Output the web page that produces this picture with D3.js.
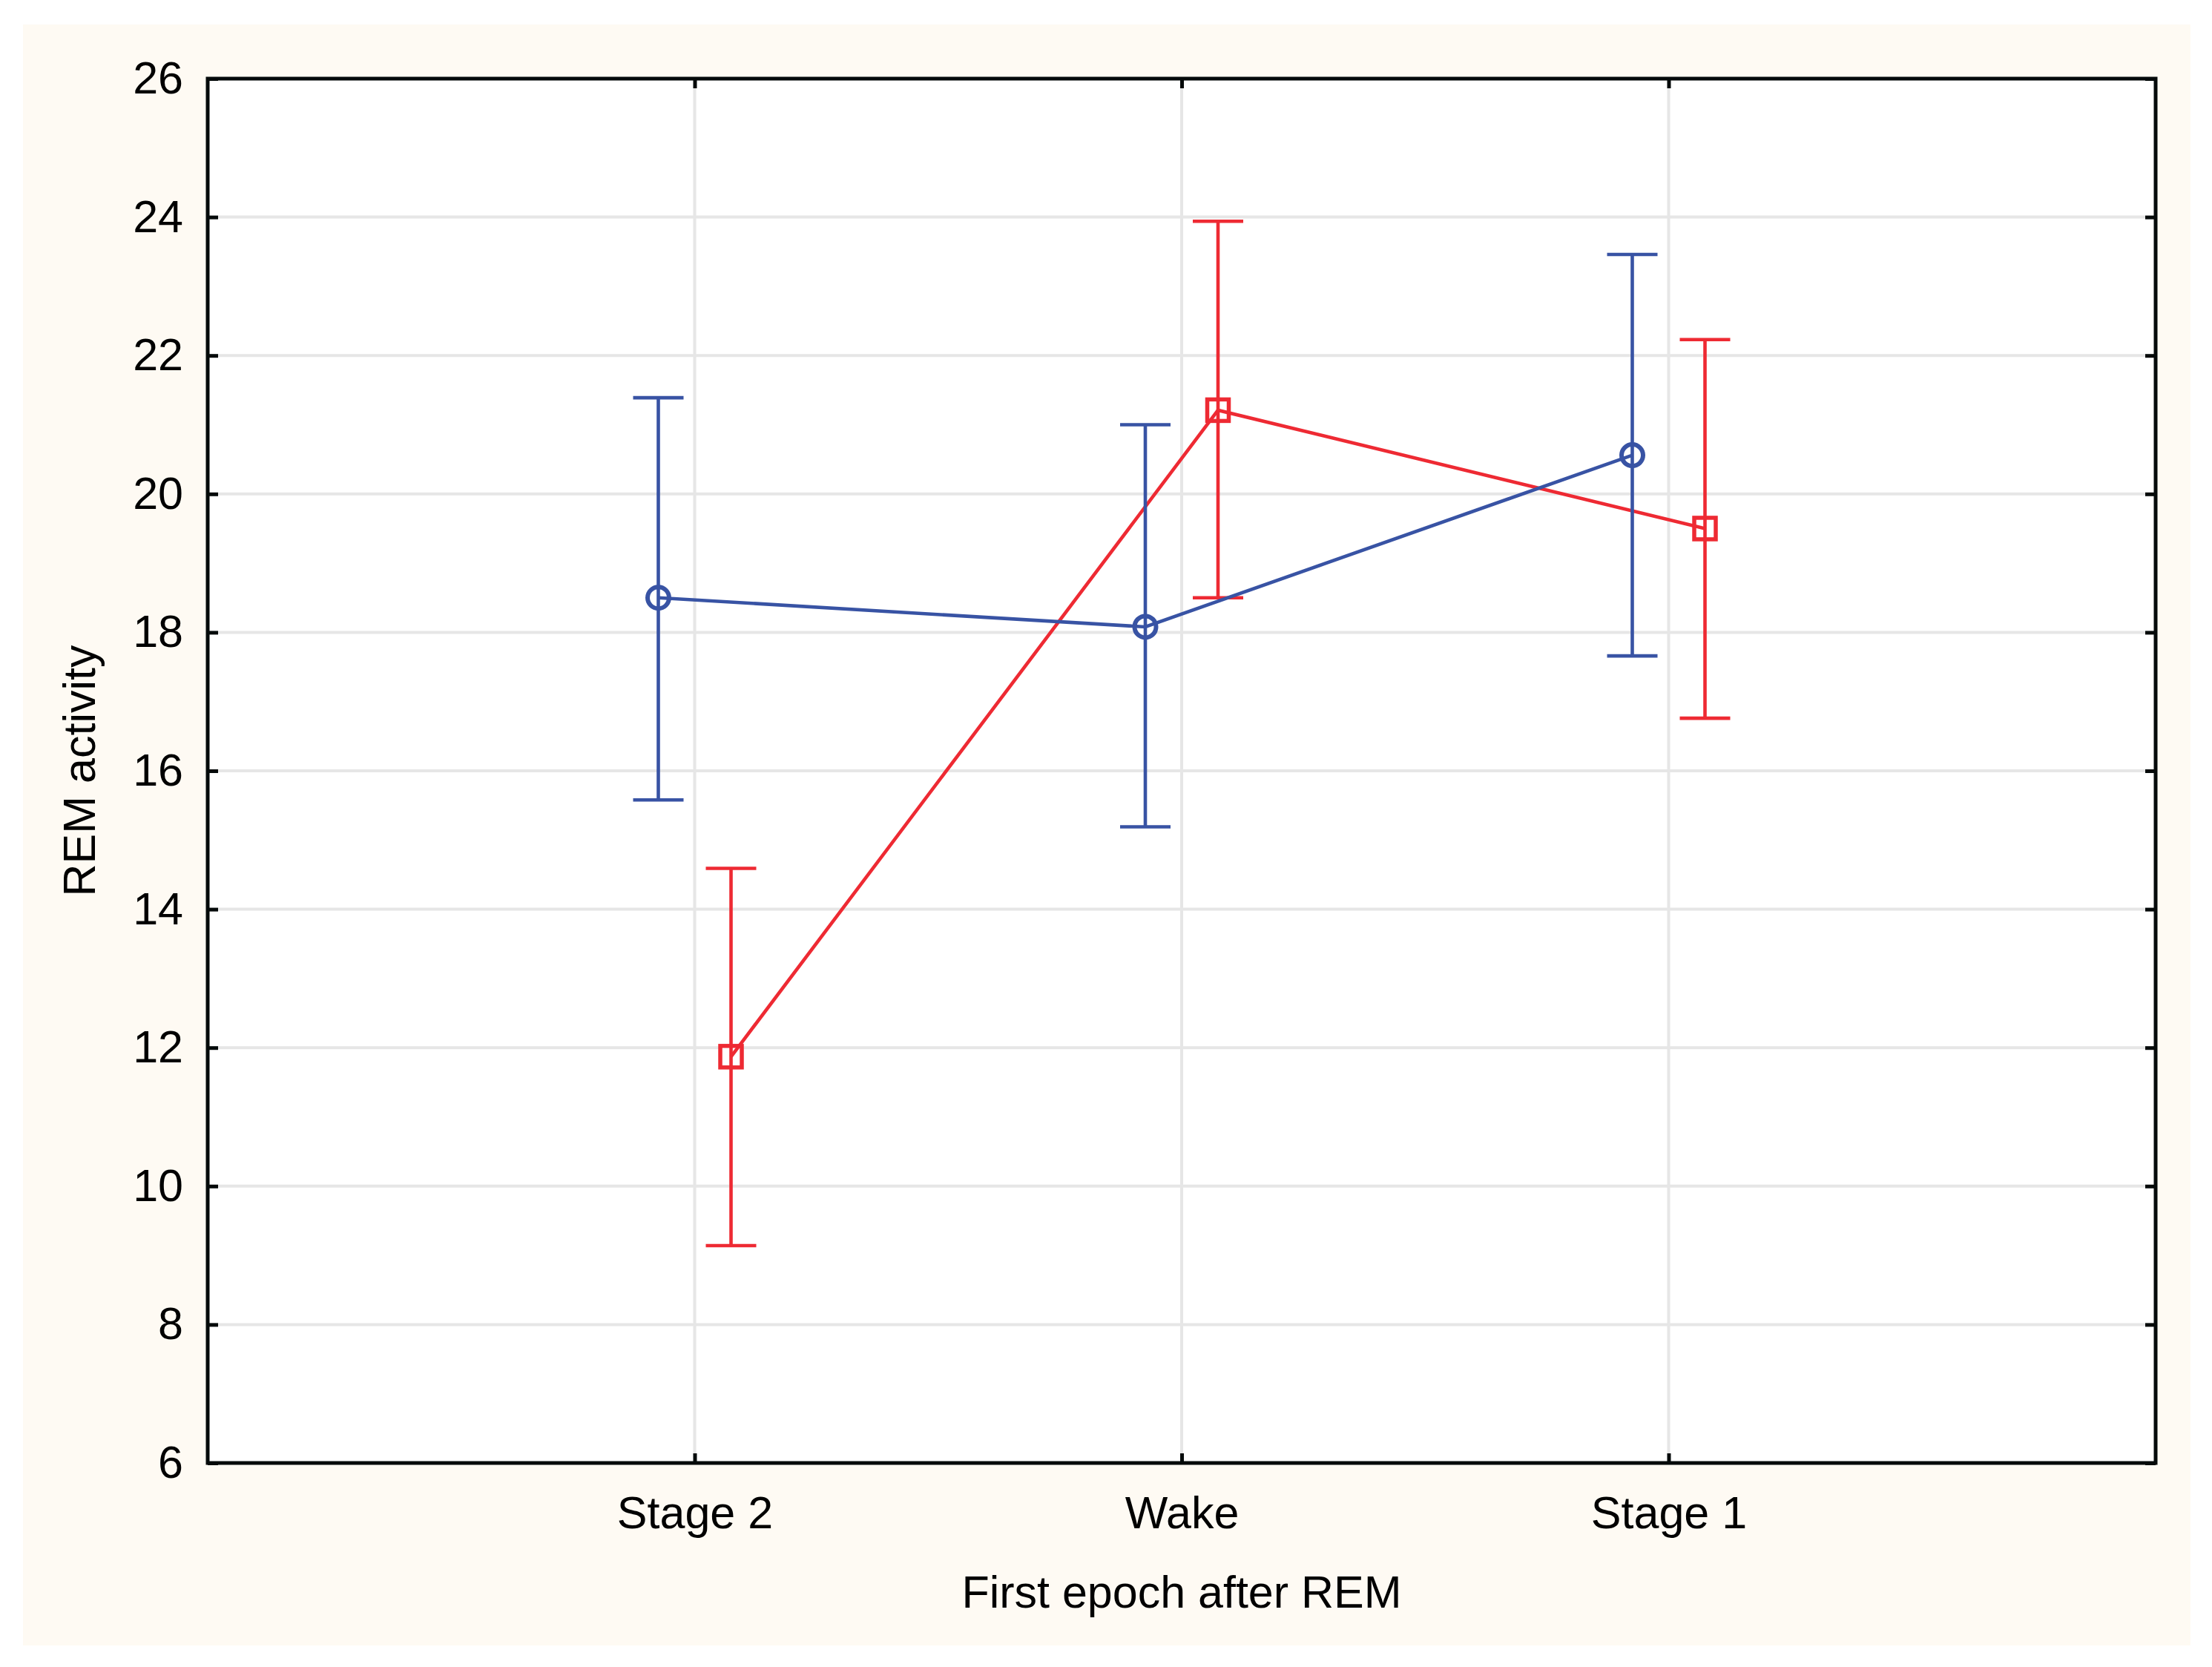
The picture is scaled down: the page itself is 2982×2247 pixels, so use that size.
<!DOCTYPE html>
<html>
<head>
<meta charset="utf-8">
<script src="https://cdn.jsdelivr.net/npm/d3@7"></script>
<style>
  html, body { margin: 0; padding: 0; background: #fff; }
  svg { display: block; }
</style>
</head>
<body>
<svg width="2982" height="2247"></svg>
<script>
// categories on the x axis
var categories = ["Stage 2", "Wake", "Stage 1"];

// blue series (circles): mean and error bar ends
var blueMean = [18.5, 18.08, 20.56];
var blueLow = [15.58, 15.19, 17.66];
var blueHigh = [21.39, 21.0, 23.46];

// red series (squares)
var redMean = [11.87, 21.21, 19.5];
var redLow = [9.14, 18.5, 16.76];
var redHigh = [14.59, 23.94, 22.23];

var yTicks = [6, 8, 10, 12, 14, 16, 18, 20, 22, 24, 26];

var svg = d3.select("svg"),
    margin = {top: 106, right: 76, bottom: 275, left: 280},
    width = svg.attr("width") - margin.left - margin.right,
    height = svg.attr("height") - margin.top - margin.bottom;

var font = "'Liberation Sans', Arial, sans-serif";

// page background
svg.append("rect")
    .attr("x", 31).attr("y", 33)
    .attr("width", 2922).attr("height", 2185)
    .attr("fill", "#fefaf3");

var g = svg.append("g").attr("transform", "translate(" + margin.left + "," + margin.top + ")");

g.append("rect")
    .attr("width", width).attr("height", height)
    .attr("fill", "#fff");

// categories sit at 1, 2, 3 of a 0..4 range
var x = d3.scaleLinear().domain([0, categories.length + 1]).range([0, width]),
    y = d3.scaleLinear().domain([6, 26]).range([height, 0]);

var gridColor = "#e6e6e6";

g.append("g").selectAll("line")
    .data(yTicks)
    .enter().append("line")
    .attr("x1", 0).attr("x2", width)
    .attr("y1", function(d) { return y(d); })
    .attr("y2", function(d) { return y(d); })
    .attr("stroke", gridColor)
    .attr("stroke-width", 4);

g.append("g").selectAll("line")
    .data(categories)
    .enter().append("line")
    .attr("x1", function(d, i) { return x(i + 1); })
    .attr("x2", function(d, i) { return x(i + 1); })
    .attr("y1", 0).attr("y2", height)
    .attr("stroke", gridColor)
    .attr("stroke-width", 4);

var series = [
    {id: "blue", color: "#3853a4", mean: blueMean, low: blueLow, high: blueHigh, shape: "circle", dx: -49},
    {id: "red", color: "#ee2a33", mean: redMean, low: redLow, high: redHigh, shape: "square", dx: 49}
];

series.forEach(function(s) {
    s.values = categories.map(function(c, i) {
        return {cat: c, x: x(i + 1) + s.dx, mean: s.mean[i], low: s.low[i], high: s.high[i]};
    });
});

function drawMarkers(sel, s, fill, stroke) {
    if (s.shape === "circle") {
        sel.selectAll(".m").data(s.values).enter().append("circle")
            .attr("cx", function(d) { return d.x; })
            .attr("cy", function(d) { return y(d.mean); })
            .attr("r", 14.5)
            .attr("fill", fill)
            .attr("stroke", stroke)
            .attr("stroke-width", 6);
    } else {
        sel.selectAll(".m").data(s.values).enter().append("rect")
            .attr("x", function(d) { return d.x - 14.5; })
            .attr("y", function(d) { return y(d.mean) - 14.5; })
            .attr("width", 29).attr("height", 29)
            .attr("fill", fill)
            .attr("stroke", stroke)
            .attr("stroke-width", 5.5);
    }
}

// white marker backgrounds hide the grid
series.forEach(function(s) {
    drawMarkers(g.append("g"), s, "#fff", "none");
});

var line = d3.line()
    .x(function(d) { return d.x; })
    .y(function(d) { return y(d.mean); });

var capHalf = 34;
var lw = 4.6;

series.slice().reverse().forEach(function(s) {
    var sg = g.append("g").attr("class", "series-" + s.id);

    sg.selectAll(".bar").data(s.values).enter().append("line")
        .attr("x1", function(d) { return d.x; })
        .attr("x2", function(d) { return d.x; })
        .attr("y1", function(d) { return y(d.low); })
        .attr("y2", function(d) { return y(d.high); })
        .attr("stroke", s.color).attr("stroke-width", lw);

    ["low", "high"].forEach(function(k) {
        sg.selectAll(".cap-" + k).data(s.values).enter().append("line")
            .attr("x1", function(d) { return d.x - capHalf; })
            .attr("x2", function(d) { return d.x + capHalf; })
            .attr("y1", function(d) { return y(d[k]); })
            .attr("y2", function(d) { return y(d[k]); })
            .attr("stroke", s.color).attr("stroke-width", lw);
    });

    sg.append("path")
        .datum(s.values)
        .attr("d", line)
        .attr("fill", "none")
        .attr("stroke", s.color)
        .attr("stroke-width", lw);

    drawMarkers(sg, s, "none", s.color);
});

// axes: ticks point inward
var frameColor = "#050a0a";

var yAxis = g.append("g")
    .call(d3.axisLeft(y).tickValues(yTicks).tickSizeInner(-14).tickSizeOuter(0).tickPadding(33));
yAxis.select(".domain").remove();
yAxis.selectAll("line").attr("stroke", frameColor).attr("stroke-width", 5);
yAxis.selectAll("text").style("font", "61px " + font).attr("fill", "#000");

var yAxisR = g.append("g")
    .attr("transform", "translate(" + width + ",0)")
    .call(d3.axisRight(y).tickValues(yTicks).tickSizeInner(-14).tickSizeOuter(0).tickFormat(""));
yAxisR.select(".domain").remove();
yAxisR.selectAll("line").attr("stroke", frameColor).attr("stroke-width", 5);

var xAxis = g.append("g")
    .attr("transform", "translate(0," + height + ")")
    .call(d3.axisBottom(x).tickValues([1, 2, 3]).tickSizeInner(-13).tickSizeOuter(0).tickPadding(45)
        .tickFormat(function(d) { return categories[d - 1]; }));
xAxis.select(".domain").remove();
xAxis.selectAll("line").attr("stroke", frameColor).attr("stroke-width", 5);
xAxis.selectAll("text").style("font", "61px " + font).attr("fill", "#000");

var xAxisT = g.append("g")
    .call(d3.axisTop(x).tickValues([1, 2, 3]).tickSizeInner(-13).tickSizeOuter(0).tickFormat(""));
xAxisT.select(".domain").remove();
xAxisT.selectAll("line").attr("stroke", frameColor).attr("stroke-width", 5);

g.append("rect")
    .attr("width", width).attr("height", height)
    .attr("fill", "none")
    .attr("stroke", frameColor)
    .attr("stroke-width", 5);

// axis titles
g.append("text")
    .attr("x", width / 2)
    .attr("y", height + 195)
    .attr("text-anchor", "middle")
    .style("font", "61px " + font)
    .attr("fill", "#000")
    .text("First epoch after REM");

g.append("text")
    .attr("transform", "translate(" + (128 - margin.left) + "," + (height / 2) + ") rotate(-90)")
    .attr("text-anchor", "middle")
    .style("font", "61px " + font)
    .attr("fill", "#000")
    .text("REM activity");
</script>
</body>
</html>
